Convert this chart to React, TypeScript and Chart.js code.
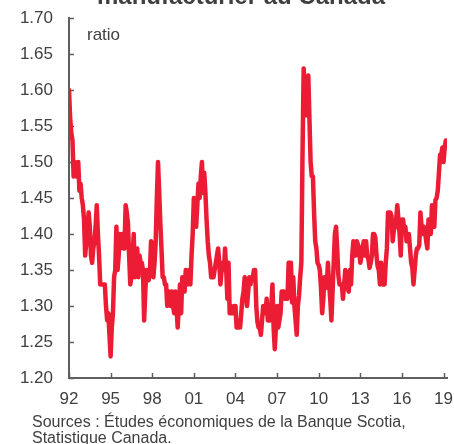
import React, { useEffect, useRef } from "react";
import { Chart, registerables } from "chart.js";

Chart.register(...registerables);

// Monthly inventory-to-sales ratio, Jan 1992 onward
const r1992 = [1.60, 1.56, 1.54, 1.53, 1.48, 1.50, 1.48, 1.48, 1.50, 1.46, 1.47, 1.45];
const r1993 = [1.44, 1.42, 1.37, 1.39, 1.41, 1.43, 1.41, 1.37, 1.36, 1.38, 1.39, 1.41];
const r1994 = [1.44, 1.40, 1.37, 1.33, 1.33, 1.33, 1.33, 1.33, 1.30, 1.28, 1.29, 1.26];
const r1995 = [1.23, 1.27, 1.29, 1.34, 1.35, 1.41, 1.35, 1.37, 1.40, 1.39, 1.40, 1.38];
const r1996 = [1.38, 1.44, 1.43, 1.415, 1.37, 1.33, 1.34, 1.37, 1.40, 1.34, 1.36, 1.38];
const r1997 = [1.34, 1.37, 1.36, 1.36, 1.35, 1.28, 1.32, 1.35, 1.34, 1.336, 1.35, 1.39];
const r1998 = [1.37, 1.34, 1.36, 1.39, 1.45, 1.50, 1.46, 1.415, 1.38, 1.34, 1.34, 1.33];
const r1999 = [1.33, 1.30, 1.31, 1.32, 1.30, 1.32, 1.30, 1.29, 1.32, 1.30, 1.27, 1.30];
const r2000 = [1.33, 1.29, 1.34, 1.33, 1.32, 1.35, 1.34, 1.33, 1.35, 1.33, 1.37, 1.40];
const r2001 = [1.45, 1.43, 1.41, 1.44, 1.47, 1.45, 1.48, 1.50, 1.457, 1.485, 1.457, 1.42];
const r2002 = [1.39, 1.37, 1.36, 1.34, 1.34, 1.34, 1.35, 1.36, 1.37, 1.38, 1.36, 1.33];
const r2003 = [1.35, 1.36, 1.35, 1.38, 1.35, 1.31, 1.36, 1.29, 1.30, 1.29, 1.29, 1.30];
const r2004 = [1.30, 1.27, 1.28, 1.27, 1.27, 1.29, 1.31, 1.32, 1.34, 1.32, 1.30, 1.32];
const r2005 = [1.34, 1.33, 1.34, 1.34, 1.35, 1.35, 1.30, 1.278, 1.27, 1.27, 1.26, 1.28];
const r2006 = [1.30, 1.29, 1.29, 1.31, 1.28, 1.28, 1.28, 1.30, 1.33, 1.27, 1.24, 1.27];
const r2007 = [1.30, 1.27, 1.28, 1.29, 1.32, 1.32, 1.32, 1.31, 1.31, 1.31, 1.36, 1.36];
const r2008 = [1.36, 1.305, 1.34, 1.30, 1.28, 1.26, 1.30, 1.315, 1.34, 1.36, 1.51, 1.63];
const r2009 = [1.60, 1.565, 1.58, 1.62, 1.56, 1.50, 1.48, 1.48, 1.43, 1.39, 1.38, 1.36];
const r2010 = [1.357, 1.35, 1.325, 1.29, 1.31, 1.34, 1.325, 1.33, 1.36, 1.33, 1.31, 1.28];
const r2011 = [1.32, 1.36, 1.40, 1.41, 1.38, 1.343, 1.33, 1.33, 1.33, 1.31, 1.33, 1.35];
const r2012 = [1.34, 1.325, 1.32, 1.35, 1.33, 1.37, 1.39, 1.38, 1.37, 1.39, 1.385, 1.38];
const r2013 = [1.36, 1.37, 1.38, 1.39, 1.37, 1.39, 1.37, 1.365, 1.353, 1.36, 1.37, 1.40];
const r2014 = [1.40, 1.395, 1.37, 1.355, 1.35, 1.33, 1.36, 1.33, 1.33, 1.33, 1.36, 1.38];
const r2015 = [1.43, 1.43, 1.43, 1.425, 1.39, 1.405, 1.41, 1.42, 1.44, 1.42, 1.40, 1.37];
const r2016 = [1.42, 1.42, 1.405, 1.41, 1.39, 1.40, 1.40, 1.38, 1.36, 1.353, 1.33, 1.35];
const r2017 = [1.37, 1.38, 1.38, 1.385, 1.43, 1.41, 1.40, 1.41, 1.405, 1.39, 1.38, 1.42];
const r2018 = [1.42, 1.40, 1.44, 1.42, 1.41, 1.447, 1.45, 1.46, 1.485, 1.51, 1.51, 1.52];
const r2019 = [1.50, 1.52, 1.53];

const startYear = 1992;
const xTickYears = [1992, 1995, 1998, 2001, 2004, 2007, 2010, 2013, 2016, 2019];
const yTickValues = [1.2, 1.25, 1.3, 1.35, 1.4, 1.45, 1.5, 1.55, 1.6, 1.65, 1.7];

const titleText = "manufacturier au Canada";
const unitText = "ratio";
const sourceLines = ["Sources : Études économiques de la Banque Scotia,", "Statistique Canada."];

const allValues = [
  ...r1992, ...r1993, ...r1994, ...r1995, ...r1996, ...r1997, ...r1998,
  ...r1999, ...r2000, ...r2001, ...r2002, ...r2003, ...r2004, ...r2005,
  ...r2006, ...r2007, ...r2008, ...r2009, ...r2010, ...r2011, ...r2012,
  ...r2013, ...r2014, ...r2015, ...r2016, ...r2017, ...r2018, ...r2019,
];

const FONT = "'Liberation Sans', Arial, Helvetica, sans-serif";
const TEXT = "#404040";
const AXIS = "#5f5f5f";
const LINE = "#ec1c34";

const inwardTicks = {
  id: "inwardTicks",
  beforeDatasetsDraw(chart: any) {
    const { ctx, chartArea, scales } = chart;
    ctx.save();
    ctx.strokeStyle = AXIS;
    ctx.lineWidth = 1.5;
    const ys = scales.y;
    ys.ticks.forEach((_t: any, i: number) => {
      const y = Math.round(ys.getPixelForTick(i)) + 0.5;
      ctx.beginPath();
      ctx.moveTo(chartArea.left, y);
      ctx.lineTo(chartArea.left + 5, y);
      ctx.stroke();
    });
    const xs = scales.x;
    xs.ticks.forEach((_t: any, i: number) => {
      const x = Math.round(xs.getPixelForTick(i)) + 0.5;
      ctx.beginPath();
      ctx.moveTo(x, chartArea.bottom);
      ctx.lineTo(x, chartArea.bottom - 5);
      ctx.stroke();
    });
    ctx.restore();
  },
};

function App() {
  const ref = useRef<HTMLCanvasElement | null>(null);

  useEffect(() => {
    if (!ref.current) return;
    const points = allValues.map((v, i) => ({ x: startYear + i / 12, y: v }));
    const chart = new Chart(ref.current, {
      type: "line",
      data: {
        datasets: [
          {
            data: points,
            borderColor: LINE,
            borderWidth: 4.5,
            pointRadius: 0,
            tension: 0,
            borderJoinStyle: "round",
            borderCapStyle: "round",
            fill: false,
          },
        ],
      },
      options: {
        animation: false,
        responsive: false,
        layout: { padding: { left: 0, top: 18, right: 7, bottom: 0 } },
        plugins: { legend: { display: false }, tooltip: { enabled: false }, title: { display: false } },
        scales: {
          x: {
            type: "linear",
            min: 1992,
            max: 2019.25,
            afterFit: (s: any) => { s.height = 66; s.paddingLeft = 0; s.paddingRight = 0; },
            afterBuildTicks: (s: any) => { s.ticks = xTickYears.map((v) => ({ value: v })); },
            grid: { display: false, drawTicks: false },
            border: { display: true, color: AXIS, width: 2 },
            ticks: {
              autoSkip: false,
              maxRotation: 0,
              padding: 11,
              color: TEXT,
              font: { family: FONT, size: 17 },
              callback: (v: any) => String(Math.round(Number(v)) % 100).padStart(2, "0"),
            },
          },
          y: {
            min: 1.2,
            max: 1.7,
            afterFit: (s: any) => { s.width = 69; s.paddingTop = 0; s.paddingBottom = 0; },
            afterBuildTicks: (s: any) => { s.ticks = yTickValues.map((v) => ({ value: v })); },
            grid: { display: false, drawTicks: false },
            border: { display: true, color: AXIS, width: 2 },
            ticks: {
              padding: 16,
              color: TEXT,
              font: { family: FONT, size: 17 },
              callback: (v: any) => Number(v).toFixed(2),
            },
          },
        },
      },
      plugins: [inwardTicks],
    });
    return () => chart.destroy();
  }, []);

  return (
    <div style={{ position: "fixed", left: 0, top: 0, width: 454, height: 444, overflow: "hidden", background: "#fff", fontFamily: FONT }}>
      <canvas ref={ref} width={454} height={444} style={{ position: "absolute", left: 0, top: 0, width: 454, height: 444 }} />
      <div style={{ position: "absolute", left: 0, width: 454, top: -16.5, textAlign: "center", paddingLeft: 28, boxSizing: "border-box", fontWeight: "bold", fontSize: 24, lineHeight: "24px", color: TEXT, whiteSpace: "nowrap" }}>
        {titleText}
      </div>
      <div style={{ position: "absolute", left: 87, top: 25.5, fontSize: 17, lineHeight: "17px", color: TEXT }}>{unitText}</div>
      <div style={{ position: "absolute", left: 32, top: 413.5, fontSize: 16, lineHeight: "16px", color: TEXT, whiteSpace: "nowrap" }}>
        {sourceLines.map((l, i) => (<div key={i}>{l}</div>))}
      </div>
    </div>
  );
}

export default App;
